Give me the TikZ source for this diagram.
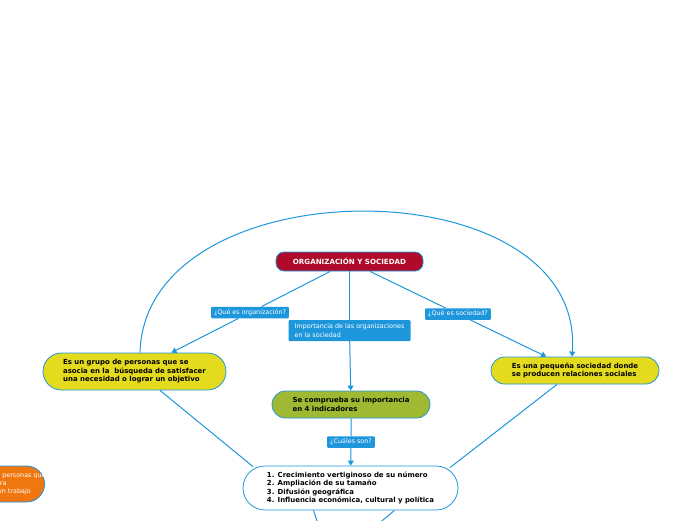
\documentclass[tikz,border=0pt]{standalone}
\usepackage{fontspec}
\setmainfont{DejaVu Sans}
\usetikzlibrary{shapes.misc}
\usetikzlibrary{arrows.meta}
\definecolor{mapblue}{RGB}{30,150,220}
\definecolor{mapred}{RGB}{176,10,42}
\definecolor{mapyellow}{RGB}{228,218,30}
\definecolor{mapgreen}{RGB}{160,185,50}
\definecolor{maporange}{RGB}{240,118,15}
\tikzstyle{topic}=[rounded rectangle, draw=mapblue, line width=0.8pt, inner xsep=0, inner ysep=0,
                   align=left, font=\bfseries\fontsize{6.95}{8.6}\selectfont]
\tikzstyle{question}=[fill=mapblue, text=white, rounded corners=1pt, inner xsep=3pt, inner ysep=0,
                      minimum height=11.5pt, align=left, font=\fontsize{6.4}{9}\selectfont]
\tikzstyle{link}=[draw=mapblue, line width=1pt]
\tikzstyle{arrowlink}=[link, -{Triangle[length=5pt, width=6pt]}]
\tikzstyle{conceptmap}=[x=1pt, y=-1pt,
                        % Fix the page to the size of the screenshot.
                        execute at begin picture={\useasboundingbox (0,0) rectangle (696,520); \clip (0,0) rectangle (696,520);}]

\begin{document}
\begin{tikzpicture}[conceptmap]
        \node[rectangle, rounded corners=8pt, draw=mapblue, line width=0.8pt, fill=mapred, text=white,
              minimum width=147pt, minimum height=19pt, font=\bfseries\fontsize{7.1}{8}\selectfont]
              (title) at (349.5, 261.5) {ORGANIZACIÓN Y SOCIEDAD};
        \node[question] (qorg) at (250, 312.5) {¿Qué es organización?};
        \node[question, minimum width=122pt, minimum height=21pt] (qimp) at (349.5, 330.5)
              {Importancia de las organizaciones\\en la sociedad};
        \node[question] (qsoc) at (458, 314) {¿Qué es sociedad?};
        \node[question] (qind) at (351, 442) {¿Cuáles son?};
        \node[topic, fill=mapyellow, minimum width=183pt, minimum height=37pt] (organizacion) at (134.5, 371.5)
              {Es un grupo de personas que se\\asocia en la~ búsqueda de satisfacer\\una necesidad o lograr un objetivo};
        \node[topic, fill=mapyellow, minimum width=168pt, minimum height=27pt] (sociedad) at (575, 370.5)
              {Es una pequeña sociedad donde\\se producen relaciones sociales};
        \node[topic, fill=mapgreen, minimum width=158pt, minimum height=27pt] (importancia) at (351, 404.5)
              {Se comprueba su importancia\\en 4 indicadores};
        \node[topic, fill=white, minimum width=215pt, minimum height=44pt] (indicadores) at (350.5, 488)
              {1. Crecimiento vertiginoso de su número\\2. Ampliación de su tamaño\\3. Difusión geográfica\\4. Influencia económica, cultural y política};
        \node[topic, fill=maporange, text=white, anchor=east, minimum height=36pt, inner xsep=-5pt,
              font=\fontsize{6.4}{8.2}\selectfont] (grupo) at (45, 484)
              {Conjunto de las personas que\\que se unen para\\desarrollar así un trabajo};
        \coordinate (downleft) at (320, 530);
        \coordinate (downright) at (371, 530);
        \draw[link] (title) -- (qorg);
        \draw[arrowlink] (qorg) -- (organizacion);
        \draw[link] (title) -- (qsoc);
        \draw[arrowlink] (qsoc) -- (sociedad);
        \draw[link] (title) -- (qimp);
        \draw[arrowlink] (qimp) -- (importancia);
        \draw[link] (importancia) -- (qind);
        \draw[arrowlink] (qind) -- (indicadores);
        \draw[arrowlink] ([xshift=5.5pt]organizacion.north) .. controls (145, 164) and (586, 164) .. ([xshift=-3pt]sociedad.north);
        \draw[link] ([xshift=25.5pt]organizacion.south) -- ([xshift=-97.5pt, yshift=-1pt]indicadores.north);
        \draw[link] ([xshift=-18pt]sociedad.south) -- ([xshift=99.5pt, yshift=-2pt]indicadores.north);
        \draw[link] ([xshift=-37pt]indicadores.south) -- (downleft);
        \draw[link] ([xshift=44pt]indicadores.south) -- (downright);
    \end{tikzpicture}
\end{document}
